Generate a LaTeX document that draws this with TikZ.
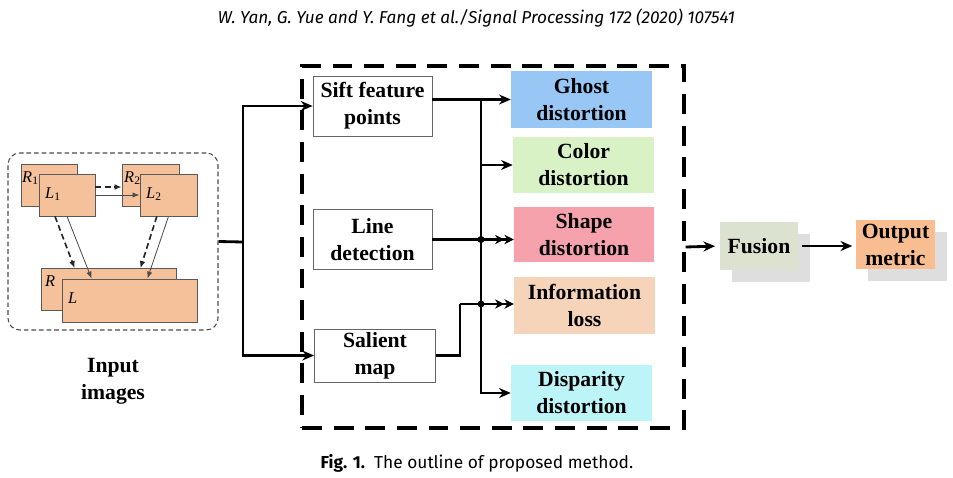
\documentclass[tikz,border=0pt]{standalone}
\usepackage{fontspec}
\setmainfont{Liberation Serif}
\newfontfamily\hdrfont{Fira Sans}
\usetikzlibrary{arrows.meta,positioning,shadows}

\definecolor{imgpeach}{RGB}{244,193,155}
\definecolor{ghostblue}{RGB}{153,199,245}
\definecolor{colorgreen}{RGB}{216,242,198}
\definecolor{shapepink}{RGB}{245,162,172}
\definecolor{infopeach}{RGB}{245,212,186}
\definecolor{dispcyan}{RGB}{188,244,247}
\definecolor{fusiongray}{RGB}{220,226,208}
\definecolor{outorange}{RGB}{248,190,146}

\tikzset{
  sz/.style 2 args={minimum width=#1*0.03cm,minimum height=#2*0.03cm},
  imgbox/.style={draw=black!65,fill=imgpeach,line width=0.7pt,inner sep=0pt},
  imglbl/.style={font=\fontsize{14}{14}\selectfont\itshape,inner sep=0pt,anchor=west},
  txt/.style={align=center,font=\fontsize{18.5}{23}\selectfont\bfseries,inner sep=0pt},
  procbox/.style={txt,draw=black!60,fill=white,line width=0.8pt},
  distbox/.style={txt},
  shadowbox/.style={txt,drop shadow={shadow xshift=0.345cm,shadow yshift=-0.35cm,fill=black!13,opacity=1}},
  link/.style={line width=2.4pt,-{Stealth[length=10pt,width=8.5pt]}},
  dlink2/.style={line width=2.4pt,-{Stealth[length=8pt,width=8pt] Stealth[length=8pt,width=8pt]}},
  plain/.style={line width=2.4pt},
  jdot/.style={circle,fill=black,inner sep=0pt,minimum size=6pt},
  dashimg/.style={line width=1.4pt,black!85,dash pattern=on 5pt off 3pt,-{Latex[length=6pt,width=5pt]}},
  solidimg/.style={line width=0.7pt,black!70,-{Latex[length=6pt,width=4.5pt]}},
}

\begin{document}
\begin{tikzpicture}[x=0.03cm,y=-0.03cm]
  \useasboundingbox (0,0) rectangle (953,478);

  \node (hdr) at (476.5,18.5) {\hdrfont\fontsize{14.7}{17}\selectfont\itshape W. Yan, G. Yue and Y. Fang et al./Signal Processing 172 (2020) 107541};
  \node (cap) at (477,463) {\hdrfont\fontsize{14.8}{17}\selectfont\textbf{Fig. 1.}\ \ The outline of proposed method.};

  % input images
  \node[draw=black!70,line width=0.9pt,dash pattern=on 4pt off 2.5pt,rounded corners=10pt,sz={210}{177}] (inbox) at (113,241.5) {};
  \node[imgbox,sz={56}{42}] (R1) at (49,185) {};
  \node[imgbox,sz={56}{42}] (L1) at (67,195) {};
  \node[imgbox,sz={57}{42}] (R2) at (150.5,185) {};
  \node[imgbox,sz={57}{42}] (L2) at (168.5,195) {};
  \node[imgbox,sz={135}{42}] (Rb) at (108.5,289.5) {};
  \node[imgbox,sz={135}{43}] (Lb) at (129.5,300.5) {};
  \node[imglbl] (R1t) at (22,178) {R\textsubscript{\upshape 1}};
  \node[imglbl] (L1t) at (45,194) {L\textsubscript{\upshape 1}};
  \node[imglbl] (R2t) at (124,178) {R\textsubscript{\upshape 2}};
  \node[imglbl] (L2t) at (146,194) {L\textsubscript{\upshape 2}};
  \node[imglbl] (Rt) at (45,281) {R};
  \node[imglbl] (Lt) at (68,298) {L};
  \draw[dashimg] ([yshift=0.24cm]L1.east) -- ([yshift=0.24cm]L1.east -| R2.west);
  \draw[solidimg] (L1.east) -- (L2.west);
  \draw[dashimg] ([xshift=-0.36cm]L1.south) -- ([xshift=1.02cm]Rb.north west);
  \draw[solidimg] (L1.south) -- ([xshift=0.9cm]Lb.north west);
  \draw[dashimg] ([xshift=-0.35cm]L2.south) -- ([xshift=-1.08cm]Rb.north east);
  \draw[solidimg] (L2.south) -- ([xshift=-1.5cm]Lb.north east);
  \node[txt] (intxt) at (113,381.5) {Input\\images};

  % feature extraction
  \node[draw,line width=2.7pt,dash pattern=on 17pt off 10pt,sz={382}{362}] (frame) at (493,247) {};
  \node[procbox,sz={119}{60}] (sift) at (372.5,106) {Sift feature\\points};
  \node[procbox,sz={119}{60}] (line) at (372.5,239.5) {Line\\detection};
  \node[procbox,sz={121}{53}] (salient) at (375,355.5) {Salient\\map};

  \node[distbox,fill=ghostblue,sz={141}{57}] (ghost) at (581.5,99.5) {Ghost\\distortion};
  \node[distbox,fill=colorgreen,sz={141}{56}] (color) at (583.5,165) {Color\\distortion};
  \node[distbox,fill=shapepink,sz={140}{55}] (shape) at (584,234.5) {Shape\\distortion};
  \node[distbox,fill=infopeach,sz={141}{57}] (info) at (584.5,305.5) {Information\\loss};
  \node[distbox,fill=dispcyan,sz={141}{56}] (disp) at (581.5,393) {Disparity\\distortion};

  \node[shadowbox,fill=fusiongray,sz={78}{48}] (fusion) at (759,246) {Fusion};
  \node[shadowbox,fill=outorange,sz={79}{49}] (output) at (895.5,244.5) {Output\\metric};

  \coordinate (j0) at (243,242);
  \coordinate (t1) at (481,99.5);
  \coordinate (sbend) at (460,304);

  \draw[plain] (inbox.east) -- (j0);
  \draw[link] (j0) |- (sift.west);
  \draw[link] (j0) |- (salient.west);

  \draw[plain] (sift.east |- t1) -- (t1);
  \draw[link] (t1) -- (ghost.west);
  \draw[link] (t1) |- (disp.west);
  \draw[link] (t1 |- color.west) -- (color.west);
  \draw[dlink2] (line.east) -- (line.east -| shape.west);
  \draw[plain] (salient.east) -| (sbend);
  \draw[dlink2] (sbend) -- (sbend -| info.west);
  \node[jdot] (d1) at (t1 |- line.east) {};
  \node[jdot] (d2) at (t1 |- sbend) {};

  \draw[link,shorten >=4pt] (frame.east) -- (fusion.west);
  \draw[link,shorten <=3pt,shorten >=3pt] (fusion.east) -- (output.west |- fusion.east);
\end{tikzpicture}
\end{document}
